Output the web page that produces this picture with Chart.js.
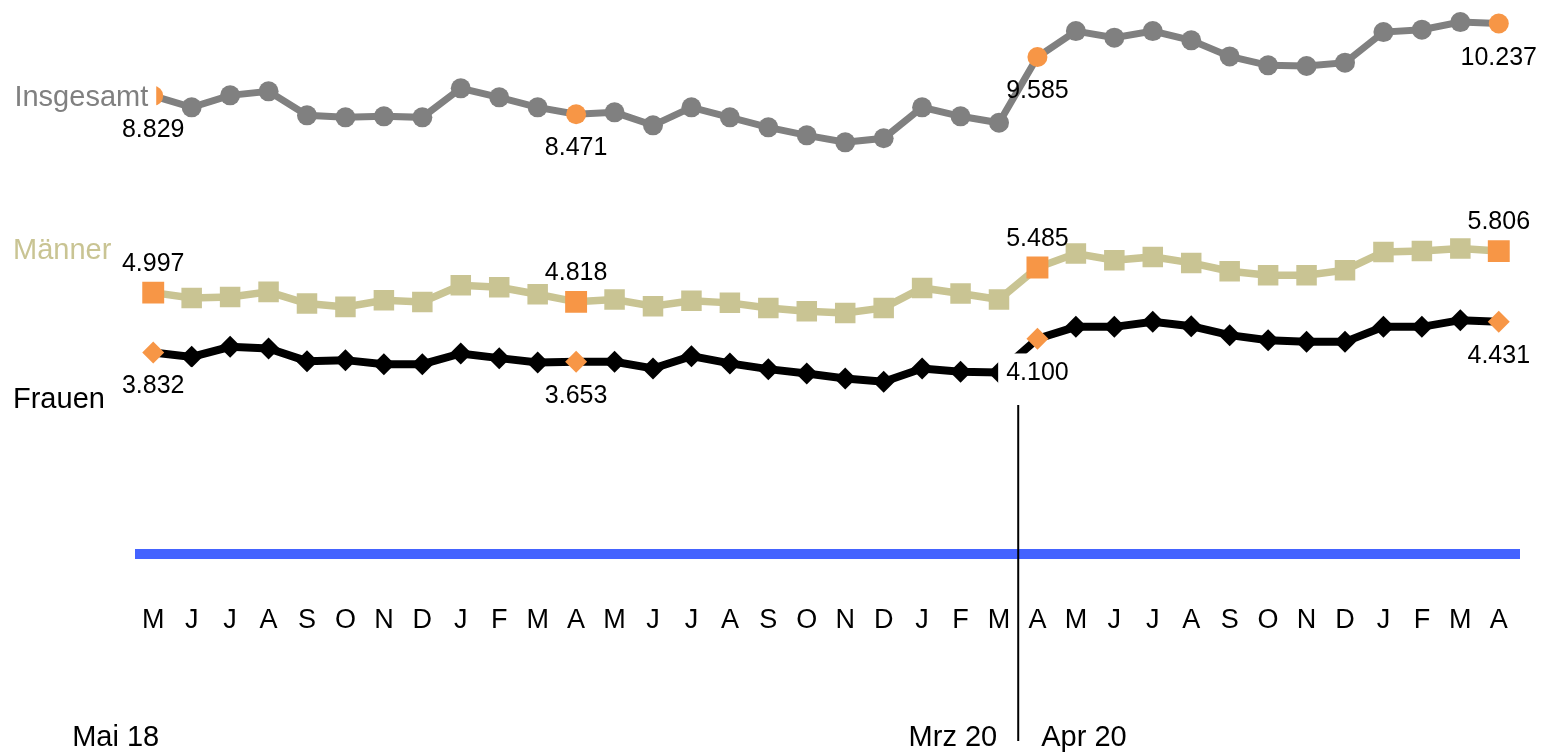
<!DOCTYPE html>
<html>
<head>
<meta charset="utf-8">
<script src="https://cdn.jsdelivr.net/npm/chart.js@4/dist/chart.umd.min.js"></script>
<style>
  html, body { margin: 0; padding: 0; background: #fff; }
  canvas { display: block; }
</style>
</head>
<body>
<canvas id="chart" width="1542" height="753"></canvas>
<script>
"use strict";

// ── data ──────────────────────────────────
const months = [
  "M", "J", "J", "A", "S", "O", "N", "D", "J", "F", "M", "A",
  "M", "J", "J", "A", "S", "O", "N", "D", "J", "F", "M", "A",
  "M", "J", "J", "A", "S", "O", "N", "D", "J", "F", "M", "A"
];

const insgesamt = [
  8.829, 8.605, 8.838, 8.916, 8.449, 8.410, 8.430, 8.410, 8.975, 8.800, 8.605, 8.471,
  8.508, 8.255, 8.605, 8.410, 8.216, 8.060, 7.924, 8.002, 8.605, 8.430, 8.304, 9.585,
  10.089, 9.961, 10.089, 9.909, 9.597, 9.422, 9.409, 9.475, 10.070, 10.117, 10.265, 10.237
];

const maenner = [
  4.997, 4.895, 4.914, 5.012, 4.786, 4.720, 4.850, 4.817, 5.142, 5.103, 4.967, 4.818,
  4.864, 4.733, 4.837, 4.798, 4.700, 4.636, 4.603, 4.700, 5.089, 4.981, 4.864, 5.485,
  5.759, 5.628, 5.693, 5.576, 5.414, 5.337, 5.337, 5.434, 5.790, 5.809, 5.856, 5.806
];

const frauen = [
  3.832, 3.747, 3.942, 3.911, 3.663, 3.683, 3.605, 3.605, 3.813, 3.722, 3.638, 3.653,
  3.650, 3.521, 3.761, 3.619, 3.508, 3.424, 3.327, 3.261, 3.521, 3.455, 3.444, 4.100,
  4.331, 4.331, 4.428, 4.344, 4.169, 4.072, 4.039, 4.039, 4.331, 4.331, 4.461, 4.431
];

// months with an orange marker and a value label
const highlighted = [0, 11, 23, 35];

// period labels under the axis: [text, index]
const periodLabels = [["Mai 18", 0], ["Mrz 20", 22], ["Apr 20", 23]];
const breakAfter = 22;   // vertical divider between Mrz 20 and Apr 20

const ORANGE = "#F79646";
const GRAY   = "#808080";
const BEIGE  = "#C9C493";
const BLUE   = "#4463FF";
const FONT   = "'Liberation Sans', Arial, sans-serif";

const hl = (c, normal) => highlighted.includes(c.dataIndex) ? ORANGE : normal;

// text (optionally on a white box), baseline at yBase
function boxText(ctx, text, x, yBase, align, size, color, box = true) {
  ctx.font = size + "px " + FONT;
  const w = ctx.measureText(text).width;
  const left = align === "right" ? x - w : align === "center" ? x - w / 2 : x;
  if (box) {
    ctx.fillStyle = "#fff";
    ctx.fillRect(left - 8, yBase - size * 1.05, w + 16, size * 1.3);
  }
  ctx.fillStyle = color;
  ctx.textAlign = "left";
  ctx.textBaseline = "alphabetic";
  ctx.fillText(text, left, yBase);
}

const annotations = {
  id: "annotations",
  beforeDatasetsDraw(chart) {
    const { ctx, chartArea } = chart;
    ctx.save();
    ctx.strokeStyle = BLUE;
    ctx.lineWidth = 10;
    ctx.beginPath();
    ctx.moveTo(chartArea.left + 1, chartArea.bottom);
    ctx.lineTo(chartArea.right + 2, chartArea.bottom);
    ctx.stroke();
    ctx.restore();
  },
  afterDatasetsDraw(chart) {
    const { ctx, scales: { x, y } } = chart;
    ctx.save();

    // value labels
    highlighted.forEach((i) => {
      const px = x.getPixelForValue(i);
      boxText(ctx, insgesamt[i].toFixed(3), px, y.getPixelForValue(insgesamt[i]) + 41, "center", 25, "#000", false);
      boxText(ctx, maenner[i].toFixed(3),   px, y.getPixelForValue(maenner[i]) - 22,   "center", 25, "#000", false);
      boxText(ctx, frauen[i].toFixed(3),    px, y.getPixelForValue(frauen[i]) + 41,    "center", 25, "#000");
    });

    // series names
    const x0 = x.getPixelForValue(0);
    boxText(ctx, "Insgesamt", x0 - 5, y.getPixelForValue(insgesamt[0]) + 10, "right", 29, GRAY);
    boxText(ctx, "Männer", 13, y.getPixelForValue(maenner[0]) - 34, "left", 29, BEIGE);
    boxText(ctx, "Frauen", 13, y.getPixelForValue(frauen[0]) + 56, "left", 29, "#000");

    // divider
    const xb = (x.getPixelForValue(breakAfter) + x.getPixelForValue(breakAfter + 1)) / 2;
    ctx.strokeStyle = "#000";
    ctx.lineWidth = 2;
    ctx.beginPath();
    ctx.moveTo(xb, 405);
    ctx.lineTo(xb, 741);
    ctx.stroke();

    // period labels
    ctx.font = "29px " + FONT;
    ctx.fillStyle = "#000";
    ctx.textBaseline = "alphabetic";
    periodLabels.forEach(([txt, i]) => {
      if (i <= breakAfter) {
        ctx.textAlign = "right";
        ctx.fillText(txt, i === breakAfter ? xb - 21 : x.getPixelForValue(i) + 6, 746);
      } else {
        ctx.textAlign = "left";
        ctx.fillText(txt, xb + 23, 746);
      }
    });
    ctx.restore();
  }
};

new Chart(document.getElementById("chart"), {
  type: "line",
  data: {
    labels: months,
    datasets: [
      {
        label: "Insgesamt",
        data: insgesamt,
        borderColor: GRAY,
        borderWidth: 7,
        pointStyle: "circle",
        pointRadius: 10,
        pointBackgroundColor: (c) => hl(c, GRAY),
        pointBorderWidth: 0,
        tension: 0,
      },
      {
        label: "Männer",
        data: maenner,
        borderColor: BEIGE,
        borderWidth: 7.5,
        pointStyle: "rect",
        pointRadius: (c) => highlighted.includes(c.dataIndex) ? 15.5 : 14.5,
        pointBackgroundColor: (c) => hl(c, BEIGE),
        pointBorderWidth: 0,
        tension: 0,
      },
      {
        label: "Frauen",
        data: frauen,
        borderColor: "#000",
        borderWidth: 8,
        pointStyle: "rectRot",
        pointRadius: 11,
        pointBackgroundColor: (c) => hl(c, "#000"),
        pointBorderWidth: 0,
        tension: 0,
      },
    ],
  },
  options: {
    responsive: false,
    animation: false,
    layout: { autoPadding: false, padding: { left: 134, right: 24, top: 10, bottom: 0 } },
    plugins: { legend: { display: false }, tooltip: { enabled: false } },
    scales: {
      x: {
        offset: true,
        grid: { display: false, drawTicks: true, tickLength: 50 },
        border: { display: false },
        ticks: {
          autoSkip: false,
          maxRotation: 0,
          padding: 0,
          color: "#000",
          font: { family: FONT, size: 27 },
        },
        afterFit: (scale) => { scale.height = 199; },
      },
      y: {
        display: false,
        min: -0.0914,
        max: 10.5,
      },
    },
  },
  plugins: [annotations],
});
</script>
</body>
</html>
